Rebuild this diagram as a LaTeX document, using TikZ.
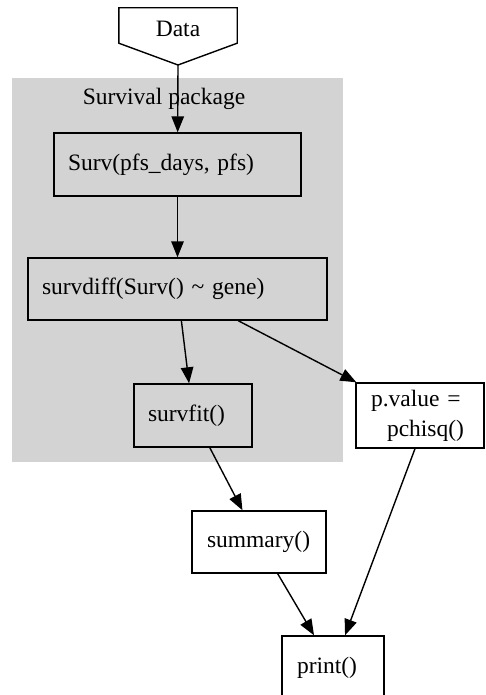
\documentclass[tikz,border=0pt]{standalone}
\usepackage{fontspec}
\setmainfont{Liberation Serif}
\usetikzlibrary{arrows.meta,calc}
\definecolor{clustergray}{RGB}{211,211,211}

\begin{document}
\begin{tikzpicture}[x=1pt,y=-1pt,
  font=\fontsize{23.5}{30}\selectfont,
  fn/.style={draw, line width=1.4pt, rectangle, inner xsep=14pt, inner ysep=0pt, align=left},
  flow/.style={line width=1.4pt, -{Triangle[length=16pt,width=12.5pt]}},
]
\useasboundingbox (0,0) rectangle (485,695);

% cluster: survival package
\fill[clustergray] (12,78) rectangle (343,462);
\node[anchor=base] (clusterlabel) at (164,105) {Survival package};

% input node (inverted house)
\node[minimum width=118pt, minimum height=35pt, inner sep=0pt] (data) at (178,25.5) {};
\coordinate (datatip) at (178,65);
\draw[line width=1.4pt, line join=miter] (data.north west) -- (data.north east)
  -- (data.south east) -- (datatip) -- (data.south west) -- cycle;
\node[anchor=base] (datalabel) at (178,37) {Data};

% function nodes
\node[fn, text width=219pt, minimum height=63pt] (surv) at (177.5,164.5) {Surv(pfs\_days, pfs)};
\node[fn, text width=271pt, minimum height=62pt] (survdiff) at (177.5,289) {survdiff(Surv() \textasciitilde{} gene)};
\node[fn, text width=90pt, minimum height=63pt] (survfit) at (193,415.5) {survfit()};
\node[fn, inner xsep=15pt, text width=98pt, minimum height=65pt, fill=white] (pvalue) at (420,415.5) {p.value =\\\hspace*{16pt}pchisq()};
\node[fn, inner xsep=15pt, text width=104pt, minimum height=62pt, fill=white] (summary) at (259,542) {summary()};
\node[fn, inner xsep=15pt, text width=72pt, minimum height=63pt, fill=white] (print) at (333,667.5) {print()};

% connectors
\draw[flow] (datatip) -- (surv);
\draw[flow] (surv) -- (survdiff);
\draw[flow] (survdiff) -- (survfit);
\draw[flow] (survdiff) -- (pvalue);
\draw[flow] (survfit) -- (summary);
\draw[flow] (summary) -- (print);
\draw[flow] ($(pvalue.south)+(-5,0)$) -- (print);
\end{tikzpicture}
\end{document}
